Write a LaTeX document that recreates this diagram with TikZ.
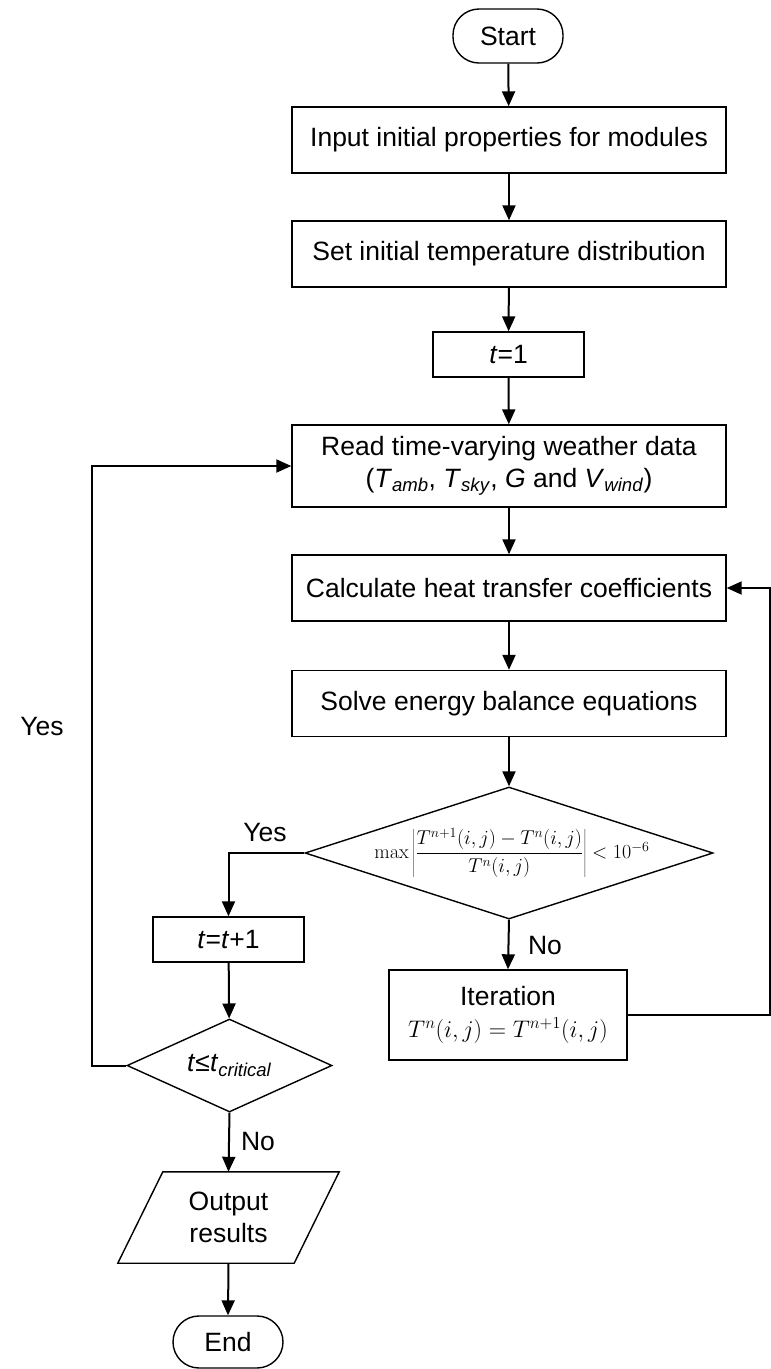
\RequirePackage{fix-cm}
\documentclass[tikz,border=0pt]{standalone}
\usepackage[no-math]{fontspec}
\setmainfont{Liberation Sans}
\usetikzlibrary{arrows.meta,shapes.geometric}
\begin{document}
\begin{tikzpicture}[x=1pt,y=-1pt,
  font=\fontsize{26.5}{32}\selectfont,
  box/.style={draw, line width=1.4pt, rectangle, inner sep=0pt, align=center},
  term/.style={draw, line width=1.4pt, rectangle, rounded corners=26pt, inner sep=0pt, align=center},
  dia/.style={draw, line width=1.4pt, diamond, inner sep=0pt},
  arr/.style={line width=2pt, -{Triangle[length=15pt,width=13pt]}},
  lbl/.style={inner sep=0pt}]
\useasboundingbox (0,0) rectangle (771,1369);
\node[term, minimum width=110pt, minimum height=54pt] (start) at (508,36) {Start};
\node[box, minimum width=434pt, minimum height=66pt] (input) at (509,140) {Input initial properties for modules};
\node[box, minimum width=434pt, minimum height=66pt] (set) at (509,254) {Set initial temperature distribution};
\node[box, minimum width=151pt, minimum height=45pt] (t1) at (508.5,354.5) {\textit{t}=1};
\node[box, minimum width=434pt, minimum height=82pt] (read) at (509,466) {Read time-varying weather data\\(\textit{T}\textsubscript{\textit{amb}}, \textit{T}\textsubscript{\textit{sky}}, \textit{G} and \textit{V}\textsubscript{\textit{wind}})};
\node[box, minimum width=434pt, minimum height=66pt] (calc) at (509,588) {Calculate heat transfer coefficients};
\node[box, minimum width=434pt, minimum height=66pt] (solve) at (509,703.5) {Solve energy balance equations};
\node[dia, minimum width=408pt, minimum height=132pt] (d1) at (509,853) {};
\node[lbl] (d1t) at (512,853) {\fontsize{20}{24}\selectfont$\max\left|\displaystyle\frac{T^{n+1}(i,j)-T^{n}(i,j)}{T^{n}(i,j)}\right|<10^{-6}$};
\node[box, minimum width=238pt, minimum height=90pt] (iter) at (508,1015) {Iteration\\[0pt]{\fontsize{24}{28}\selectfont$T^{n}(i,j)=T^{n+1}(i,j)$}};
\node[box, minimum width=151pt, minimum height=45pt] (tinc) at (228.5,939.5) {\textit{t}=\textit{t}+1};
\node[dia, minimum width=205pt, minimum height=93pt] (d2) at (229.5,1065.5) {};
\node[lbl] (d2t) at (229.5,1065.5) {\textit{t}≤\textit{t}\textsubscript{\textit{critical}}};
\node[align=center, inner sep=0pt, minimum width=176pt, minimum height=91pt] (out) at (228.5,1217.5) {Output\\results};
\draw[line width=1.4pt] ([xshift=22.5pt]out.north west) -- ([xshift=22.5pt]out.north east) -- ([xshift=-22.5pt]out.south east) -- ([xshift=-22.5pt]out.south west) -- cycle;
\node[term, minimum width=110pt, minimum height=52pt] (end) at (228,1342) {End};
% connectors
\draw[arr] (start) -- (input);
\draw[arr] (input) -- (set);
\draw[arr] (set) -- (t1);
\draw[arr] (t1) -- (read);
\draw[arr] (read) -- (calc);
\draw[arr] (calc) -- (solve);
\draw[arr] (solve) -- (d1);
\draw[arr] (d1.west) -| (tinc.north);
\node[lbl] (yes1) at (265,833) {Yes};
\draw[arr] (d1.south) -- (iter.north);
\node[lbl] (no1) at (545,945) {No};
\draw[arr] (tinc) -- (d2);
\draw[arr] (d2.south) -- (out.north);
\node[lbl] (no2) at (258,1141) {No};
\draw[arr] (out.south) -- (end.north);
\coordinate (lx) at (92,1065.5);
\draw[arr] (d2.west) -- (lx) |- (read.west);
\node[lbl] (yes2) at (42,727) {Yes};
\coordinate (rx) at (770,1015);
\draw[arr] (iter.east) -- (rx) |- (calc.east);
\end{tikzpicture}
\end{document}
